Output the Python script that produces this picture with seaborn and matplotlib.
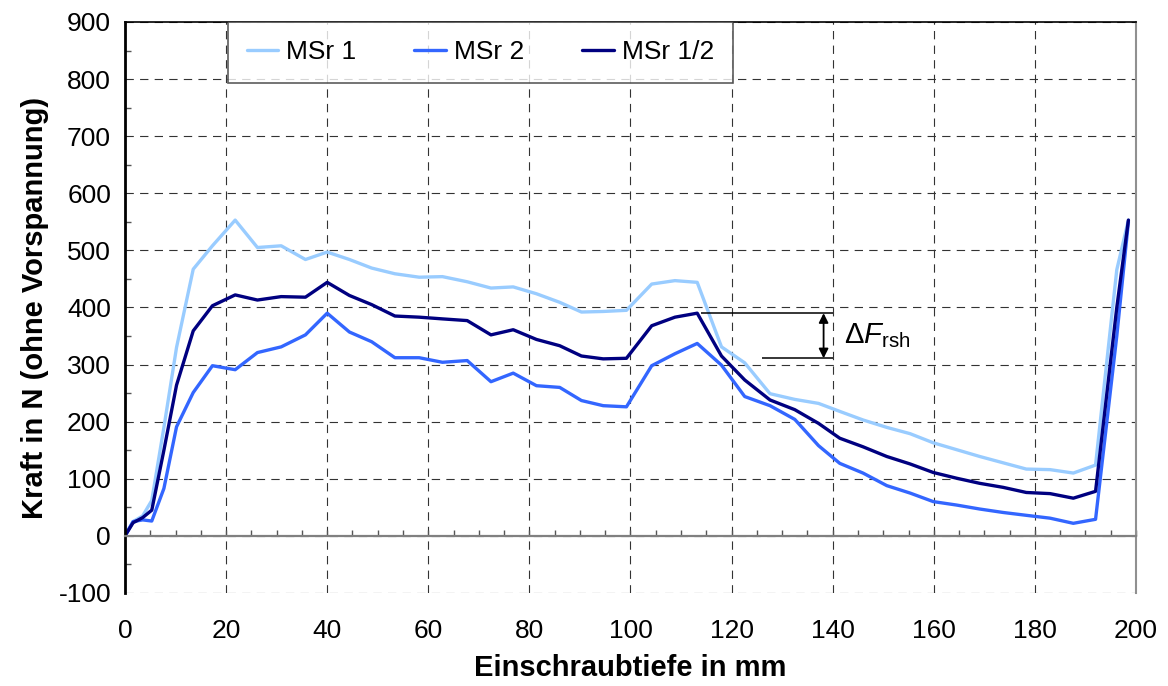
import numpy as np
import pandas as pd
import matplotlib
matplotlib.use("Agg")
import matplotlib.pyplot as plt
from matplotlib.ticker import MultipleLocator
import seaborn as sns

# Einschraubtiefe in mm
tiefe = [0, 1.6, 3.5, 5.3, 7.7, 10.2, 13.5, 17.3, 21.8, 26.2,
         30.9, 35.7, 40.0, 44.4, 48.8, 53.4, 58.2, 62.8, 67.7, 72.4,
         76.8, 81.4, 86.0, 90.3, 94.6, 99.2, 104.2, 108.8, 113.2, 118.0,
         122.6, 127.6, 132.5, 137.2, 141.4, 146.0, 150.7, 155.3, 159.9, 164.5,
         169.1, 173.7, 178.3, 183.0, 187.6, 192.0, 196.2, 198.5]

# Kraft in N
msr1 = [0, 25, 35, 62, 190, 330, 467, 508, 553, 505,
        508, 484, 497, 484, 469, 459, 453, 454, 445, 434,
        436, 424, 409, 392, 393, 395, 441, 447, 444, 331,
        303, 249, 239, 232, 218, 203, 190, 179, 163, 151,
        139, 128, 117, 116, 110, 124, 466, 553]

msr2 = [0, 25, 28, 26, 83, 191, 251, 298, 291, 321,
        331, 352, 390, 357, 340, 312, 312, 304, 307, 270,
        285, 263, 260, 237, 228, 226, 298, 319, 337, 299,
        244, 228, 204, 158, 127, 110, 88, 75, 60, 54,
        47, 41, 36, 31, 22, 29, 350, 550]

msr12 = [0, 23, 32, 45, 150, 264, 359, 403, 422, 413,
         419, 418, 444, 421, 405, 385, 383, 380, 377, 352,
         361, 344, 333, 315, 310, 311, 368, 383, 390, 315,
         273, 238, 221, 197, 171, 156, 139, 126, 111, 101,
         92, 85, 76, 74, 66, 78, 400, 553]

labels = ["MSr 1", "MSr 2", "MSr 1/2"]
colors = ["#99CCFF", "#3366FF", "#000080"]

df = pd.concat([
    pd.DataFrame({"Tiefe": tiefe, "Kraft": vals, "Reihe": name})
    for name, vals in zip(labels, [msr1, msr2, msr12])
], ignore_index=True)

sns.set_style("white")
plt.rcParams["font.family"] = ["Liberation Sans", "DejaVu Sans"]
plt.rcParams["mathtext.fontset"] = "custom"
plt.rcParams["mathtext.rm"] = "Liberation Sans"
plt.rcParams["mathtext.it"] = "Liberation Sans:italic"
plt.rcParams["lines.scale_dashes"] = False
plt.rcParams["axes.unicode_minus"] = False
plt.rcParams["text.color"] = "black"
plt.rcParams["axes.labelcolor"] = "black"
plt.rcParams["xtick.labelcolor"] = "black"
plt.rcParams["ytick.labelcolor"] = "black"

fig = plt.figure(figsize=(11.68, 6.86), dpi=100)
ax = fig.add_axes([0.107, 0.1356, 0.8656, 0.8324])

sns.lineplot(data=df, x="Tiefe", y="Kraft", hue="Reihe", palette=colors,
             hue_order=labels, sort=False, linewidth=2.4, ax=ax, legend=False)

ax.set_xlim(0, 200)
ax.set_ylim(-100, 900)
ax.xaxis.set_major_locator(MultipleLocator(20))
ax.xaxis.set_minor_locator(MultipleLocator(5))
ax.yaxis.set_major_locator(MultipleLocator(100))
ax.yaxis.set_minor_locator(MultipleLocator(50))

ax.grid(True, which="major", color="#333333", linestyle=(0, (6, 4.5)), linewidth=0.8)
ax.set_axisbelow(True)

# axes frame
ax.spines["left"].set_color("black")
ax.spines["left"].set_linewidth(2)
ax.spines["top"].set_color("black")
ax.spines["top"].set_linewidth(1.2)
ax.spines["right"].set_color("#909090")
ax.spines["right"].set_linewidth(1.5)
ax.spines["bottom"].set_position(("data", 0))
ax.spines["bottom"].set_color("#808080")
ax.spines["bottom"].set_linewidth(1.6)

ax.tick_params(axis="y", which="major", direction="out", length=6, width=1,
               color="#555555", labelsize=19, pad=4)
ax.tick_params(axis="y", which="minor", direction="in", length=4.5, width=1,
               color="#555555", left=True)
ax.tick_params(axis="x", which="both", direction="in", length=4.5, width=1,
               color="#555555", bottom=True)
ax.tick_params(axis="x", which="major", labelsize=19, pad=60)

ax.set_xlabel("Einschraubtiefe in mm", fontsize=21, fontweight="bold")
ax.set_ylabel("Kraft in N (ohne Vorspannung)", fontsize=21, fontweight="bold", labelpad=7)
ax.xaxis.set_label_coords(0.5, -0.106)

# legend
handles = [plt.Line2D([], [], color=c, lw=2.4) for c in colors]
leg = ax.legend(handles, labels, ncol=3, loc="upper left", bbox_to_anchor=(0.102, 1.0),
                borderaxespad=0, fontsize=19, frameon=True, fancybox=False,
                handlelength=1.2, handletextpad=0.3, columnspacing=2.2,
                borderpad=0.7)
leg.get_frame().set_edgecolor("#333333")
leg.get_frame().set_linewidth(1.2)

# Delta F annotation (peak and valley of MSr 1/2 around 100 mm)
i_peak = 28
i_valley = 25
y_top = msr12[i_peak]
y_bot = msr12[i_valley]
ax.hlines(y_top, tiefe[i_peak] + 0.8, 140, color="black", lw=1.1)
ax.hlines(y_bot, 126, 140, color="black", lw=1.1)
ax.annotate("", xy=(138.2, y_bot), xytext=(138.2, y_top),
            arrowprops=dict(arrowstyle="<|-|>", color="black", lw=1.3,
                            mutation_scale=14, shrinkA=0, shrinkB=0))
ax.text(142.2, (y_top + y_bot) / 2, r"$\mathrm{\Delta}\mathit{F}_{\mathrm{rsh}}$",
        fontsize=21, va="center", ha="left")

fig.savefig("out.png", dpi=100)
